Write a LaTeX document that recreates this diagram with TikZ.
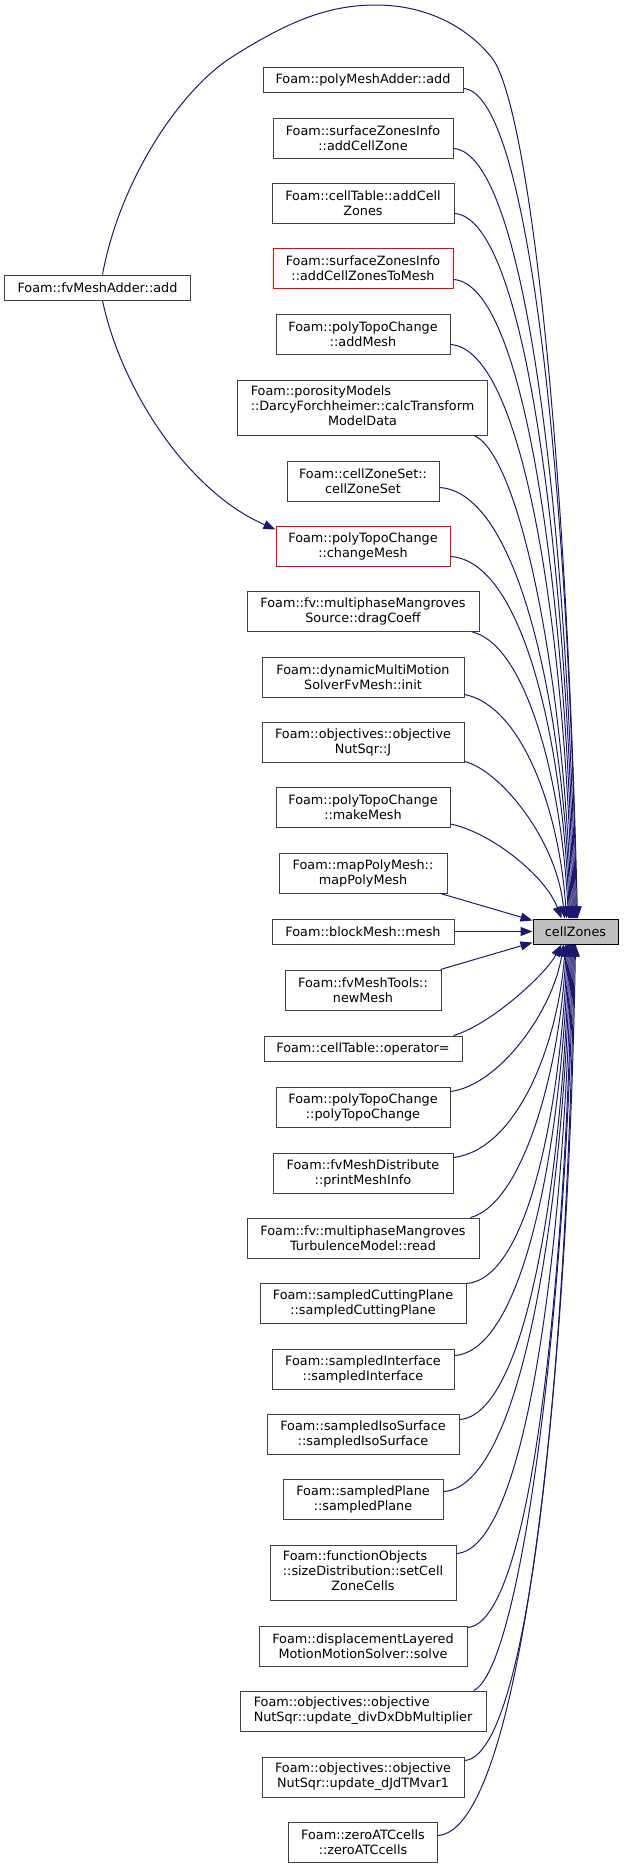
\documentclass[tikz,border=0pt]{standalone}
\usepackage{fontspec}
\setmainfont{DejaVu Sans}
\usetikzlibrary{arrows.meta,calc}
\definecolor{edgec}{HTML}{191970}
\definecolor{bordc}{HTML}{404040}
\definecolor{redc}{HTML}{FF0000}
\definecolor{fillc}{HTML}{BFBFBF}
\begin{document}
\begin{tikzpicture}[x=1bp,y=-1bp,
  boxl/.style={draw=bordc, line width=1bp, inner sep=0pt, font=\fontsize{12.8bp}{15bp}\selectfont, minimum height=40bp},
  box/.style={boxl, align=center},
  redbox/.style={box, draw=redc},
  conn/.style={draw=edgec, line width=1bp, -{Triangle[length=12bp,width=9bp]}}]
\useasboundingbox (0,0) rectangle (624,1868);

\node[box, minimum width=185bp, minimum height=25bp] (fva) at (97.5,287.5) {Foam::fvMeshAdder::add};
\node[box, minimum width=200bp, minimum height=25bp] (pma) at (363,79.5) {Foam::polyMeshAdder::add};
\node[box, minimum width=180bp] (acz) at (363,138) {Foam::surfaceZonesInfo\\::addCellZone};
\node[box, minimum width=182bp] (acs) at (363,203) {Foam::cellTable::addCell\\Zones};
\node[redbox, minimum width=180bp] (atm) at (363,268) {Foam::surfaceZonesInfo\\::addCellZonesToMesh};
\node[box, minimum width=174bp] (adm) at (363,334) {Foam::polyTopoChange\\::addMesh};
\node[boxl, minimum width=250bp, minimum height=55bp] (por) at (362.5,407.5) {\begin{tabular}{@{}l@{}}Foam::porosityModels\\::DarcyForchheimer::calcTransform\\\multicolumn{1}{@{}c@{}}{ModelData}\end{tabular}};
\node[box, minimum width=152bp] (czs) at (363,481) {Foam::cellZoneSet::\\cellZoneSet};
\node[redbox, minimum width=174bp] (chm) at (363,546) {Foam::polyTopoChange\\::changeMesh};
\node[box, minimum width=232bp] (drg) at (363,611.5) {Foam::fv::multiphaseMangroves\\Source::dragCoeff};
\node[box, minimum width=202bp] (dmm) at (363,677) {Foam::dynamicMultiMotion\\SolverFvMesh::init};
\node[box, minimum width=202bp] (ojj) at (363,742) {Foam::objectives::objective\\NutSqr::J};
\node[box, minimum width=174bp] (mkm) at (363,807.5) {Foam::polyTopoChange\\::makeMesh};
\node[box, minimum width=168bp] (mpm) at (363,873) {Foam::mapPolyMesh::\\mapPolyMesh};
\node[box, minimum width=182bp, minimum height=25bp] (bmm) at (363,931.5) {Foam::blockMesh::mesh};
\node[box, minimum width=85bp, minimum height=25bp, fill=fillc, draw=black] (cz) at (575.5,931.5) {cellZones};
\node[box, minimum width=156bp] (nwm) at (363,990) {Foam::fvMeshTools::\\newMesh};
\node[box, minimum width=198bp, minimum height=25bp] (opr) at (363,1048.5) {Foam::cellTable::operator=};
\node[box, minimum width=174bp] (ptc) at (363,1107.5) {Foam::polyTopoChange\\::polyTopoChange};
\node[box, minimum width=180bp] (pmi) at (363,1173) {Foam::fvMeshDistribute\\::printMeshInfo};
\node[box, minimum width=232bp] (rd) at (363,1238) {Foam::fv::multiphaseMangroves\\TurbulenceModel::read};
\node[box, minimum width=206bp] (scp) at (363,1303) {Foam::sampledCuttingPlane\\::sampledCuttingPlane};
\node[box, minimum width=182bp] (sif) at (363,1369) {Foam::sampledInterface\\::sampledInterface};
\node[box, minimum width=192bp] (sis) at (363,1434) {Foam::sampledIsoSurface\\::sampledIsoSurface};
\node[box, minimum width=160bp] (spl) at (363,1499) {Foam::sampledPlane\\::sampledPlane};
\node[boxl, minimum width=186bp, minimum height=55bp] (scz) at (363,1572.5) {\begin{tabular}{@{}l@{}}Foam::functionObjects\\::sizeDistribution::setCell\\\multicolumn{1}{@{}c@{}}{ZoneCells}\end{tabular}};
\node[box, minimum width=208bp] (dlm) at (363,1646) {Foam::displacementLayered\\MotionMotionSolver::solve};
\node[boxl, minimum width=246bp] (udx) at (363,1711) {\begin{tabular}{@{}l@{}}Foam::objectives::objective\\NutSqr::update\_divDxDbMultiplier\end{tabular}};
\node[box, minimum width=202bp] (udj) at (363,1777) {Foam::objectives::objective\\NutSqr::update\_dJdTMvar1};
\node[box, minimum width=149bp] (zat) at (363,1842) {Foam::zeroATCcells\\::zeroATCcells};

% fvMeshAdder edges
\draw[conn] ($(fva.north)+(5,0)$) .. controls (120,180) and (180,90) .. (232,57)
  .. controls (290,20) and (330,5) .. (376,5)
  .. controls (430,5) and (470,30) .. (492,58)
  .. controls (525,100) and (565,400) .. ($(cz.north west)+(45,0)$);
\draw[conn] ($(fva.south)+(5,0)$) .. controls (120,385) and (185,490) .. ($(chm.north west)+(0,4)$);

% upper callers
\draw[conn] ($(pma.south east)+(0,-4)$) .. controls (531,93) and (569,504) .. ($(cz.north west)+(44,0)$);
\draw[conn] ($(acz.south east)+(0,-10)$) .. controls (527,153) and (568,533) .. ($(cz.north west)+(43,0)$);
\draw[conn] ($(acs.south east)+(0,-10)$) .. controls (527,218) and (567,566) .. ($(cz.north west)+(42,0)$);
\draw[conn] ($(atm.south east)+(0,-9)$) .. controls (526,284) and (566,599) .. ($(cz.north west)+(41,0)$);
\draw[conn] ($(adm.south east)+(0,-10)$) .. controls (524,349) and (565,631) .. ($(cz.north west)+(40,0)$);
\draw[conn] ($(por.south east)+(-14,0)$) .. controls (520,455) and (564,677) .. ($(cz.north west)+(39,0)$);
\draw[conn] ($(czs.south east)+(0,-14)$) .. controls (518,492) and (563,703) .. ($(cz.north west)+(38,0)$);
\draw[conn] ($(chm.south east)+(0,-10)$) .. controls (522,561) and (562,737) .. ($(cz.north west)+(37,0)$);
\draw[conn] ($(drg.south east)+(-7,0)$) .. controls (525,645) and (561,775) .. ($(cz.north west)+(36,0)$);
\draw[conn] ($(dmm.south east)+(0,-3)$) .. controls (520,705) and (559,806) .. ($(cz.north west)+(34,0)$);
\draw[conn] ($(ojj.south east)+(0,-1)$) .. controls (500,770) and (557,840) .. ($(cz.north west)+(32,0)$);
\draw[conn] ($(mkm.south east)+(0,-4)$) .. controls (490,832) and (545,875) .. ($(cz.north west)+(29,0)$);
\draw[conn] ($(mpm.south east)+(-7,0)$) -- ($(cz.north west)+(0,2)$);
\draw[conn] (bmm.east) -- (cz.west);
% lower callers
\draw[conn] ($(nwm.north east)+(-1,0)$) -- ($(cz.south west)+(0,-2)$);
\draw[conn] ($(opr.north east)+(-9,0)$) .. controls (490,1025) and (545,975) .. ($(cz.south west)+(29,0)$);
\draw[conn] ($(ptc.north east)+(0,4.5)$) .. controls (500,1085) and (553,1010) .. ($(cz.south west)+(31,0)$);
\draw[conn] ($(pmi.north east)+(0,5)$) .. controls (515,1150) and (557,1050) .. ($(cz.south west)+(33,0)$);
\draw[conn] ($(rd.north east)+(-9,0)$) .. controls (520,1205) and (559,1080) .. ($(cz.south west)+(34,0)$);
\draw[conn] ($(scp.north east)+(0,1)$) .. controls (527,1279) and (560,1114) .. ($(cz.south west)+(35,0)$);
\draw[conn] ($(sif.north east)+(0,7)$) .. controls (523,1351) and (561,1150) .. ($(cz.south west)+(36,0)$);
\draw[conn] ($(sis.north east)+(0,6)$) .. controls (526,1415) and (562,1182) .. ($(cz.south west)+(37,0)$);
\draw[conn] ($(spl.north east)+(0,13)$) .. controls (520,1487) and (563,1218) .. ($(cz.south west)+(38,0)$);
\draw[conn] ($(scz.north east)+(0,9)$) .. controls (526,1549) and (564,1249) .. ($(cz.south west)+(39,0)$);
\draw[conn] ($(dlm.north east)+(0,2)$) .. controls (531,1623) and (565,1286) .. ($(cz.south west)+(40,0)$);
\draw[conn] ($(udx.north east)+(-13,0)$) .. controls (520,1670) and (566,1317) .. ($(cz.south west)+(41,0)$);
\draw[conn] ($(udj.north east)+(0,4)$) .. controls (531,1756) and (567,1352) .. ($(cz.south west)+(42,0)$);
\draw[conn] ($(zat.north east)+(0,14)$) .. controls (520,1830) and (568,1390) .. ($(cz.south west)+(43,0)$);
\end{tikzpicture}
\end{document}
